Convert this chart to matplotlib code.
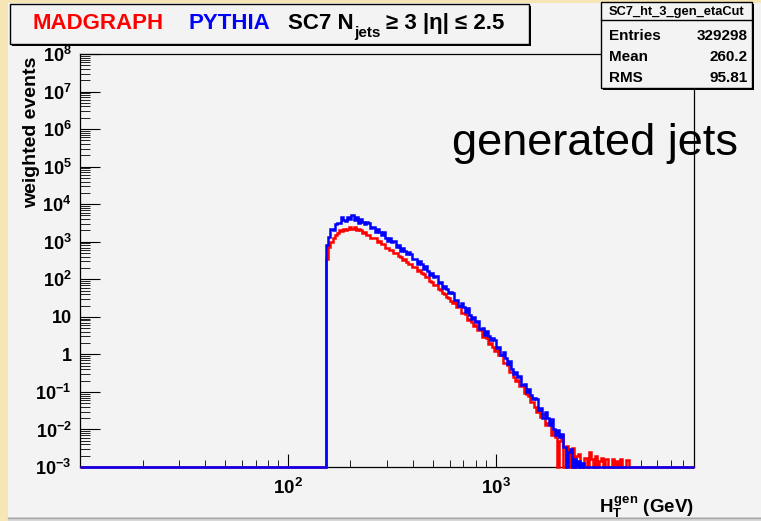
import numpy as np
import matplotlib
matplotlib.use("Agg")
import matplotlib.pyplot as plt
from matplotlib.patches import Rectangle
from matplotlib.lines import Line2D
from matplotlib.ticker import FixedLocator, FixedFormatter, LogLocator, NullFormatter

# ---------------- data ----------------
ht_axis_range = (10, 9000)          # GeV
y_axis_range = (1e-3, 1e8)
ht_first_edge = 153.0
ht_last_edge = 4567.0
n_bins = 146

# log10(weighted events) per bin, None = empty bin
pythia_log10 = [
    2.90, 3.12, 3.34, 3.31, 3.48, 3.50, 3.50, 3.65, 3.57, 3.54,
    3.65, 3.61, 3.70, 3.58, 3.65, 3.51, 3.61, 3.53, 3.46, 3.53,
    3.49, 3.36, 3.39, 3.27, 3.35, 3.27, 3.17, 3.26, 3.11, 3.03,
    3.09, 3.00, 3.03, 2.87, 2.90, 2.75, 2.83, 2.74, 2.66, 2.72,
    2.68, 2.54, 2.55, 2.42, 2.49, 2.40, 2.28, 2.36, 2.21, 2.12,
    2.17, 2.07, 2.09, 1.91, 1.93, 1.76, 1.83, 1.73, 1.63, 1.67,
    1.63, 1.44, 1.46, 1.28, 1.38, 1.26, 1.12, 1.23, 1.04, 0.93,
    0.99, 0.87, 0.90, 0.67, 0.71, 0.51, 0.62, 0.49, 0.37, 0.44,
    0.37, 0.18, 0.19, -0.02, 0.05, -0.09, -0.25, -0.17, -0.38, -0.51,
    -0.46, -0.60, -0.58, -0.82, -0.79, -1.01, -0.92, -1.07, -1.20, -1.15,
    -1.19, -1.48, -1.44, -1.70, -1.53, -1.69, -1.89, -1.71, -1.99, -2.15,
    -2.02, -2.21, -2.13, -2.46, None, -2.60, -2.52, None, -2.80, None,
    -2.85, None, -2.90, None, None, None, None, None, None, None,
    None, None, None, None, None, None, None, None, None, None,
    None, None, None, None, None, None]
madgraph_log10 = [
    2.55, 2.85, 3.00, 3.10, 3.18, 3.24, 3.30, 3.29, 3.35, 3.31,
    3.35, 3.38, 3.34, 3.38, 3.32, 3.34, 3.30, 3.24, 3.26, 3.19,
    3.18, 3.11, 3.11, 3.09, 3.00, 3.01, 2.94, 2.93, 2.84, 2.83,
    2.78, 2.78, 2.70, 2.69, 2.61, 2.60, 2.52, 2.53, 2.46, 2.40,
    2.41, 2.34, 2.32, 2.23, 2.24, 2.16, 2.13, 2.06, 2.05, 1.95,
    1.94, 1.86, 1.85, 1.75, 1.72, 1.63, 1.62, 1.52, 1.50, 1.41,
    1.36, 1.39, 1.26, 1.28, 1.11, 1.11, 1.08, 0.92, 0.95, 0.85,
    0.75, 0.78, 0.64, 0.65, 0.47, 0.47, 0.44, 0.28, 0.30, 0.20,
    0.10, 0.13, -0.01, -0.02, -0.22, -0.24, -0.29, -0.48, -0.47, -0.59,
    -0.70, -0.69, -0.84, -0.84, -1.03, -1.05, -1.10, -1.28, -1.27, -1.39,
    -1.54, -1.45, -1.67, -1.59, -1.88, -1.84, -1.86, -2.14, -2.04, -2.20,
    None, -2.30, -2.15, None, -2.45, -2.60, None, -2.50, None, -2.70,
    -2.65, None, None, -2.75, None, -2.60, -2.80, None, -2.70, None,
    -2.85, -2.75, None, -2.80, None, None, -2.78, None, -2.85, None,
    -2.80, None, None, -2.82, None, None]

y_ticks = [1e-3, 1e-2, 1e-1, 1, 10, 1e2, 1e3, 1e4, 1e5, 1e6, 1e7, 1e8]
y_tick_labels = [r"$10^{-3}$", r"$10^{-2}$", r"$10^{-1}$", "1", "10",
                 r"$10^{2}$", r"$10^{3}$", r"$10^{4}$", r"$10^{5}$",
                 r"$10^{6}$", r"$10^{7}$", r"$10^{8}$"]
x_ticks = [100, 1000]
x_tick_labels = [r"$10^{2}$", r"$10^{3}$"]

stats_title = "SC7_ht_3_gen_etaCut"
stats_names = ["Entries", "Mean", "RMS"]
stats_values = ["329298", "260.2", "95.81"]

# ---------------- style ----------------
plt.rcParams['font.family'] = ['Liberation Sans', 'DejaVu Sans']
plt.rcParams['font.weight'] = 'bold'
plt.rcParams['mathtext.fontset'] = 'custom'
for k in ['rm', 'it', 'bf', 'sf']:
    plt.rcParams['mathtext.' + k] = 'Liberation Sans:bold'

W, H = 761, 521
BG = '#f3f3f3'
fig = plt.figure(figsize=(W / 100, H / 100), dpi=100, facecolor=BG)


def fx(x):
    return x / W


def fy(y):
    return 1 - y / H


def rect_px(x0, y0, x1, y1, **kw):
    r = Rectangle((fx(x0), fy(y1)), (x1 - x0) / W, (y1 - y0) / H,
                  transform=fig.transFigure, **kw)
    fig.patches.append(r)
    return r


# slide border
rect_px(0, 0, 8, H, facecolor='#f6e6b4', edgecolor='none', zorder=0)
rect_px(0, 0, W, 3, facecolor='#f6e6b4', edgecolor='none', zorder=0)
rect_px(8, 517, W, H, facecolor='#d8d8d8', edgecolor='none', zorder=0)
fig.lines.append(Line2D([fx(8), 1], [fy(517.5), fy(517.5)], transform=fig.transFigure,
                        color='#a8a8a8', lw=1.0))

# axes
ax_l, ax_r, ax_t, ax_b = 80, 694, 54, 467
ax = fig.add_axes([fx(ax_l), fy(ax_b), (ax_r - ax_l) / W, (ax_b - ax_t) / H])
ax.set_facecolor(BG)
ax.set_xscale('log')
ax.set_yscale('log')
ax.set_xlim(*ht_axis_range)
ax.set_ylim(*y_axis_range)

edges = np.geomspace(ht_first_edge, ht_last_edge, n_bins + 1)
edges_full = np.concatenate([[ht_axis_range[0]], edges, [ht_axis_range[1]]])


def to_vals(logs):
    arr = np.array([np.nan if v is None else v for v in logs], dtype=float)
    v = np.where(np.isnan(arr), y_axis_range[0], 10.0 ** arr)
    return np.concatenate([[y_axis_range[0]], v, [y_axis_range[0]]])


ax.stairs(to_vals(madgraph_log10), edges_full, baseline=None, color='#ff0000',
          lw=1.8, clip_on=False, zorder=3)
ax.stairs(to_vals(pythia_log10), edges_full, baseline=None, color='#0000ff',
          lw=1.8, clip_on=False, zorder=4)

for s in ax.spines.values():
    s.set_linewidth(0.9)
    s.set_color('black')

ax.yaxis.set_major_locator(FixedLocator(y_ticks))
ax.yaxis.set_major_formatter(FixedFormatter(y_tick_labels))
ax.yaxis.set_minor_locator(LogLocator(base=10, subs=np.arange(2, 10), numticks=50))
ax.yaxis.set_minor_formatter(NullFormatter())
ax.xaxis.set_major_locator(FixedLocator(x_ticks))
ax.xaxis.set_major_formatter(FixedFormatter(x_tick_labels))
ax.xaxis.set_minor_locator(LogLocator(base=10, subs=np.arange(2, 10), numticks=50))
ax.xaxis.set_minor_formatter(NullFormatter())

ax.tick_params(axis='y', which='major', direction='in', length=14.4, width=0.8,
               labelsize=13, pad=6, left=True, right=False)
ax.tick_params(axis='y', which='minor', direction='in', length=7.2, width=0.6,
               left=True, right=False)
ax.tick_params(axis='x', which='major', direction='in', length=9.4, width=0.8,
               labelsize=13.5, pad=8, bottom=True, top=False)
ax.tick_params(axis='x', which='minor', direction='in', length=4.7, width=0.6,
               bottom=True, top=False)

# axis titles
fig.text(fx(32), fy(132), "weighted events", rotation=90, ha='center', va='center',
         fontsize=14, fontweight='bold')
fig.text(fx(694), fy(513), r"$H_{T}^{gen}$ (GeV)", ha='right', va='baseline',
         fontsize=13.5, fontweight='bold')

# title pave with shadow
rect_px(12, 6, 531, 46, facecolor='black', edgecolor='none', zorder=1)
rect_px(10, 4, 529, 44, facecolor=BG, edgecolor='black', lw=1.0, zorder=2)
fig.text(fx(33), fy(29), "MADGRAPH", color='#ff0000', fontsize=16,
         fontweight='bold', va='baseline', zorder=3)
fig.text(fx(189), fy(29), "PYTHIA", color='#0000ff', fontsize=16,
         fontweight='bold', va='baseline', zorder=3)
fig.text(fx(288), fy(29), "SC7 N", color='black', fontsize=16,
         fontweight='bold', va='baseline', zorder=3)
fig.text(fx(354), fy(37), "jets", color='black', fontsize=11,
         fontweight='bold', va='baseline', zorder=3)
fig.text(fx(386), fy(29), "\u2265 3 |\u03b7| \u2264 2.5", color='black', fontsize=16,
         fontweight='bold', va='baseline', zorder=3)

# stats box with shadow
sx0, sy0, sx1, sy1 = 601, 2, 752, 88
rect_px(sx0 + 2, sy0 + 2, sx1 + 2, sy1 + 2, facecolor='black', edgecolor='none', zorder=1)
rect_px(sx0, sy0, sx1, sy1, facecolor=BG, edgecolor='black', lw=1.0, zorder=2)
fig.lines.append(Line2D([fx(sx0), fx(sx1)], [fy(20), fy(20)], transform=fig.transFigure,
                        color='black', lw=1.0, zorder=3))
fig.text(fx((sx0 + sx1) / 2), fy(11.5), stats_title, ha='center', va='center',
         fontsize=9.3, fontweight='bold', zorder=3)
for i, (nm, val) in enumerate(zip(stats_names, stats_values)):
    yy = 36 + 21 * i
    fig.text(fx(609), fy(yy), nm, ha='left', va='center', fontsize=11,
             fontweight='bold', zorder=3)
    fig.text(fx(748), fy(yy), val, ha='right', va='center', fontsize=11,
             fontweight='bold', zorder=3)

# annotation
fig.text(fx(452), fy(155), "generated jets", ha='left', va='baseline', fontsize=32.5,
         fontweight='normal', family=['Liberation Sans', 'DejaVu Sans'], zorder=5)

fig.savefig("out.png", dpi=100, facecolor=BG)
